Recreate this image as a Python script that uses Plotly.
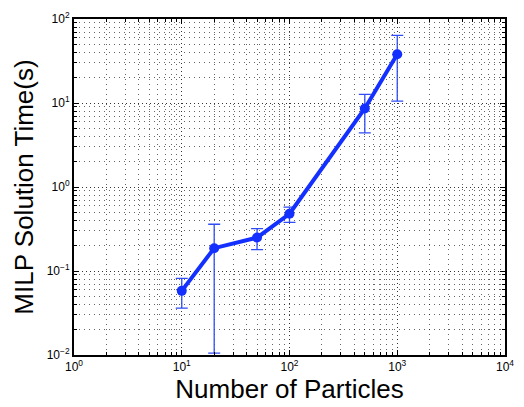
import plotly.graph_objects as go

particles = [10, 20, 50, 100, 500, 1000]
time_mean = [0.058, 0.187, 0.25, 0.48, 8.6, 38.0]
time_upper = [0.0815, 0.36, 0.32, 0.575, 12.7, 64.0]
time_lower = [0.0362, 0.0105, 0.18, 0.38, 4.4, 10.5]

x_tickvals = [1, 10, 100, 1000, 10000]
x_ticktext = ["10<sup>0</sup>", "10<sup>1</sup>", "10<sup>2</sup>", "10<sup>3</sup>", "10<sup>4</sup>"]
y_tickvals = [0.01, 0.1, 1, 10, 100]
y_ticktext = ["10<sup>−2</sup>", "10<sup>−1</sup>", "10<sup>0</sup>", "10<sup>1</sup>", "10<sup>2</sup>"]

err_plus = [u - m for u, m in zip(time_upper, time_mean)]
err_minus = [m - l for m, l in zip(time_mean, time_lower)]


def minor_vals(majors):
    return [m * k for m in majors[:-1] for k in range(2, 10)]


fig = go.Figure()
fig.add_trace(go.Scatter(
    x=particles, y=time_mean, mode="lines+markers",
    line=dict(color="#1430ff", width=4),
    marker=dict(color="#1430ff", size=10),
    error_y=dict(type="data", symmetric=False, array=err_plus, arrayminus=err_minus,
                 color="#2f4cf5", thickness=1.3, width=6),
    showlegend=False,
))

axis_common = dict(
    type="log", showline=True, linecolor="black", linewidth=2, mirror="allticks",
    ticks="inside", ticklen=5, tickcolor="black",
    showgrid=True, gridcolor="rgba(0,0,0,0.8)", griddash="1px,3px", gridwidth=1,
    tickfont=dict(size=12, color="black"),
    zeroline=False,
)

fig.update_xaxes(**axis_common, range=[0, 4], tickvals=x_tickvals, ticktext=x_ticktext,
                 minor=dict(tickvals=minor_vals(x_tickvals), showgrid=True,
                            gridcolor="rgba(0,0,0,0.6)", griddash="1px,4px", gridwidth=1,
                            ticks="inside", ticklen=3, tickcolor="black"),
                 title=dict(text="Number of Particles", font=dict(size=26, color="black"), standoff=0))
fig.update_yaxes(**axis_common, range=[-2, 2], tickvals=y_tickvals, ticktext=y_ticktext,
                 minor=dict(tickvals=minor_vals(y_tickvals), showgrid=True,
                            gridcolor="rgba(0,0,0,0.6)", griddash="1px,4px", gridwidth=1,
                            ticks="inside", ticklen=3, tickcolor="black"),
                 title=dict(text="MILP Solution Time(s)", font=dict(size=26, color="black"), standoff=6))

fig.update_layout(
    width=524, height=407,
    margin=dict(l=74, r=10, t=14, b=52),
    paper_bgcolor="white", plot_bgcolor="white",
    font=dict(family="Liberation Sans, Arial, Helvetica, sans-serif", color="black"),
)

fig.write_html("out.html")
